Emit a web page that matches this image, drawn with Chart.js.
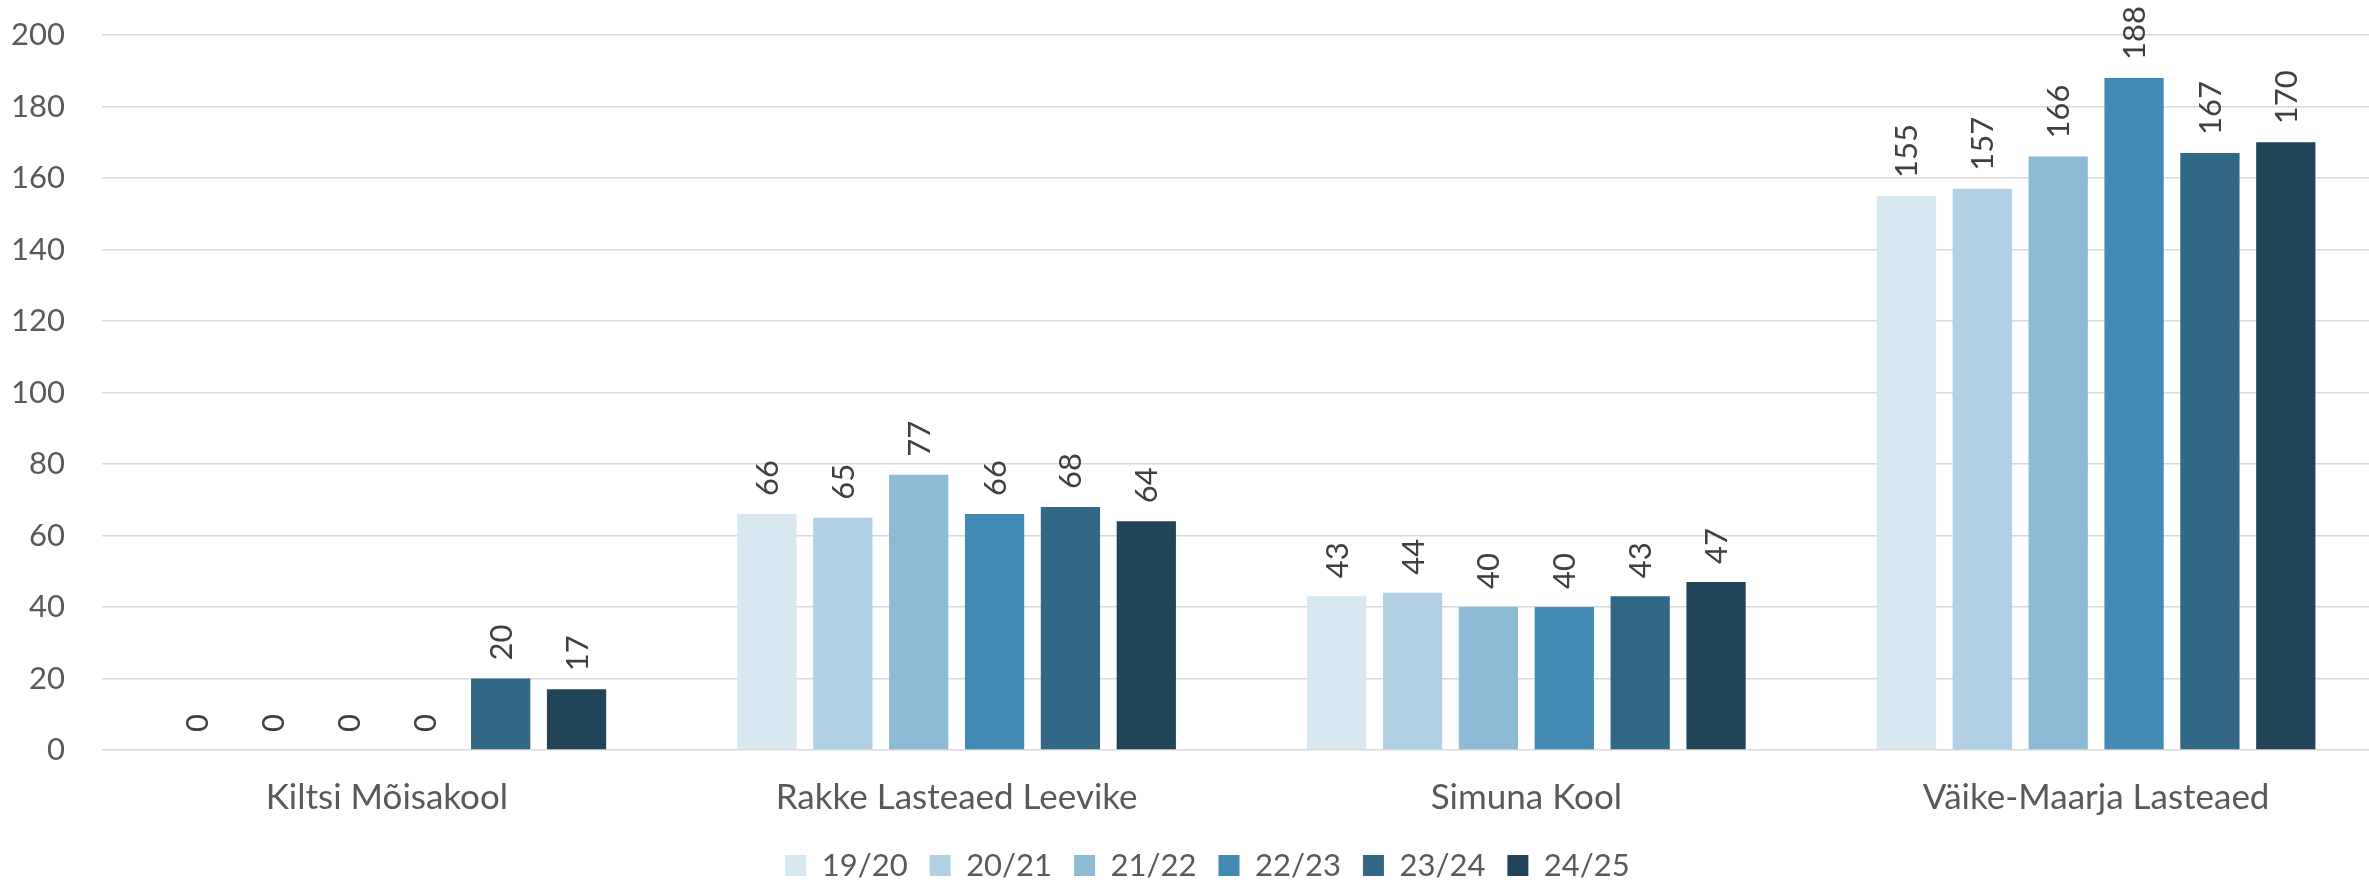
<!DOCTYPE html>
<html>
<head>
<meta charset="utf-8">
<script src="https://cdn.jsdelivr.net/npm/chart.js@4/dist/chart.umd.min.js"></script>
<style>
html,body{margin:0;padding:0;background:#fff;overflow:hidden;}
#wrap{width:2369px;height:886px;position:relative;overflow:hidden;}
#c{display:block;}
</style>
</head>
<body>
<div id="wrap"><canvas id="c" width="2381" height="886"></canvas></div>
<script>
const categories = ["Kiltsi Mõisakool", "Rakke Lasteaed Leevike", "Simuna Kool", "Väike-Maarja Lasteaed"];
const seriesNames = ["19/20", "20/21", "21/22", "22/23", "23/24", "24/25"];
const s1920 = [0, 66, 43, 155];
const s2021 = [0, 65, 44, 157];
const s2122 = [0, 77, 40, 166];
const s2223 = [0, 66, 40, 188];
const s2324 = [20, 68, 43, 167];
const s2425 = [17, 64, 47, 170];
const yTicks = [0, 20, 40, 60, 80, 100, 120, 140, 160, 180, 200];
const colors = ["#D7E8F1", "#B2D0E3", "#8DBAD4", "#4289B4", "#326886", "#224459"];

const allSeries = [s1920, s2021, s2122, s2223, s2324, s2425];

const labelPlugin = {
  id: 'vlabels',
  afterLayout(chart) {
    if (chart.legend) { chart.legend.left += 17; chart.legend.right += 17; }
  },
  afterDatasetsDraw(chart) {
    const ctx = chart.ctx;
    ctx.save();
    ctx.font = '31px Lato';
    ctx.fillStyle = '#404040';
    ctx.textAlign = 'left';
    ctx.textBaseline = 'middle';
    chart.data.datasets.forEach((ds, i) => {
      const meta = chart.getDatasetMeta(i);
      meta.data.forEach((el, j) => {
        ctx.save();
        ctx.translate(el.x + 1, el.y - 18);
        ctx.rotate(-Math.PI / 2);
        ctx.fillText(String(ds.data[j]), 0, 0);
        ctx.restore();
      });
    });
    ctx.restore();
  }
};

new Chart(document.getElementById('c'), {
  type: 'bar',
  data: {
    labels: categories,
    datasets: allSeries.map((d, i) => ({
      label: seriesNames[i],
      data: d,
      backgroundColor: colors[i],
      borderWidth: 0,
      categoryPercentage: 0.799,
      barPercentage: 0.781
    }))
  },
  options: {
    responsive: false,
    maintainAspectRatio: false,
    animation: false,
    devicePixelRatio: 1,
    layout: { padding: { top: 35, right: 0, left: 0, bottom: -5 } },
    plugins: {
      legend: {
        position: 'bottom',
        labels: {
          boxWidth: 21,
          boxHeight: 21,
          padding: 22,
          color: '#595959',
          font: { family: 'Lato', size: 31 }
        }
      },
      tooltip: { enabled: false }
    },
    scales: {
      x: {
        grid: { display: false, drawTicks: false },
        border: { display: false },
        afterFit: (s) => { s.height = 78; s.paddingLeft = 0; s.paddingRight = 0; },
        ticks: { color: '#595959', font: { family: 'Lato', size: 35 }, padding: 27, maxRotation: 0 }
      },
      y: {
        min: 0, max: 200,
        afterBuildTicks: (s) => { s.ticks = yTicks.map(v => ({ value: v })); },
        afterFit: (s) => { s.width = 102; s.paddingTop = 0; s.paddingBottom = 0; },
        grid: { color: '#D9D9D9', lineWidth: 1.5, drawTicks: false },
        border: { display: false },
        ticks: { color: '#595959', font: { family: 'Lato', size: 31 }, padding: 37 }
      }
    }
  },
  plugins: [labelPlugin]
});
</script>
</body>
</html>
